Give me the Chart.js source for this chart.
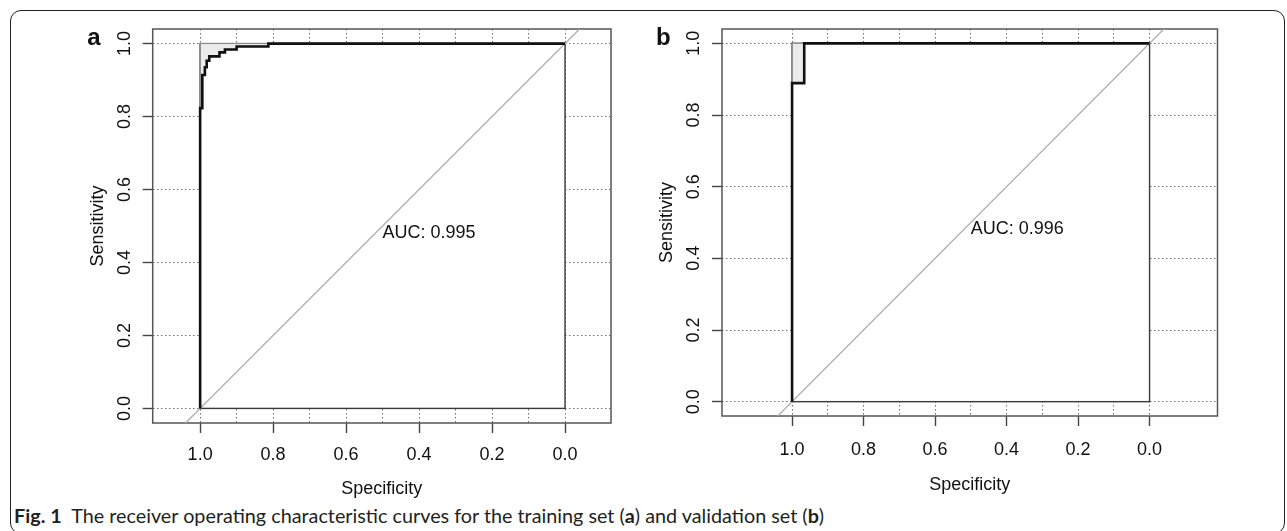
<!DOCTYPE html>
<html>
<head>
<meta charset="utf-8">
<script src="https://cdn.jsdelivr.net/npm/chart.js@4.4.0/dist/chart.umd.min.js"></script>
<style>
  html, body { margin: 0; padding: 0; background: #fff; }
  body { width: 1287px; height: 531px; position: relative; overflow: hidden; }
  #frame { position: absolute; left: 10px; top: 10px; width: 1275px; height: 524px;
           border: 1.5px solid #222; border-radius: 11px; box-sizing: border-box; }
  canvas { position: absolute; top: 0; }
  #caption { position: absolute; left: 14px; top: 503px; font-family: Lato, "Open Sans", sans-serif;
             font-size: 19.8px; line-height: 24px; color: #231f20; white-space: nowrap; }
</style>
</head>
<body>
<div id="frame"></div>
<canvas id="rocA" width="640" height="500" style="left:0px"></canvas>
<canvas id="rocB" width="647" height="500" style="left:640px"></canvas>
<div id="caption"><b>Fig. 1</b>&nbsp; The receiver operating characteristic curves for the training set (<b>a</b>) and validation set (<b>b</b>)</div>

<script>
// operating points of the ROC curves (specificity, sensitivity)
var specA = [1, 1, 0.994, 0.987, 0.982, 0.975, 0.947, 0.932, 0.900, 0.813, 0];
var sensA = [0, 0.823, 0.914, 0.935, 0.953, 0.965, 0.976, 0.984, 0.992, 1, 1];
var specB = [1, 1, 0.966, 0];
var sensB = [0, 0.889, 1, 1];
var aucA = "AUC: 0.995";
var aucB = "AUC: 0.996";

// axes
var xGrid = [1.0, 0.9, 0.8, 0.7, 0.6, 0.5, 0.4, 0.3, 0.2, 0.1, 0.0];
var xLabels = ["1.0", "0.8", "0.6", "0.4", "0.2", "0.0"];
var yTicks = [0.0, 0.2, 0.4, 0.6, 0.8, 1.0];
var diagSpec = [1.1, -0.1];

var FONT = '"Liberation Sans", Arial, Helvetica, sans-serif';

// turn operating points into the step path (right first, then up)
function stepPath(spec, sens) {
  var pts = [{x: spec[0], y: sens[0]}];
  for (var i = 1; i < spec.length; i++) {
    pts.push({x: spec[i], y: sens[i - 1]});
    pts.push({x: spec[i], y: sens[i]});
  }
  return pts;
}

// shaded area between the curve and the top-left corner
function cornerShape(spec, sens) {
  var pts = stepPath(spec, sens).slice(1, -1);
  pts.push({x: spec[0], y: 1});
  pts.push(pts[0]);
  return pts;
}

var frameBits = {
  id: 'frameBits',
  beforeDatasetsDraw: function (chart) {
    var ctx = chart.ctx, a = chart.chartArea;
    var sx = chart.scales.x, sy = chart.scales.y;
    var l = sx.getPixelForValue(1), r = sx.getPixelForValue(0);
    var t = sy.getPixelForValue(1), b = sy.getPixelForValue(0);
    ctx.save();
    ctx.fillStyle = '#fff';
    ctx.fillRect(l, t, r - l, b - t);
    ctx.strokeStyle = '#3a3a3a';
    ctx.lineWidth = 1.4;
    ctx.strokeRect(l, t, r - l, b - t);
    ctx.strokeStyle = '#555';
    ctx.lineWidth = 1.5;
    ctx.strokeRect(a.left, a.top, a.right - a.left, a.bottom - a.top);
    ctx.restore();
  },
  afterDraw: function (chart, args, opts) {
    var ctx = chart.ctx, a = chart.chartArea;
    var sx = chart.scales.x, sy = chart.scales.y;
    ctx.save();
    ctx.fillStyle = '#111';
    ctx.font = '18px ' + FONT;
    ctx.textAlign = 'center';
    ctx.textBaseline = 'middle';
    sy.ticks.forEach(function (t) {
      ctx.save();
      ctx.translate(a.left - 27.5, sy.getPixelForValue(t.value));
      ctx.rotate(-Math.PI / 2);
      ctx.fillText(t.value.toFixed(1), 0, 0);
      ctx.restore();
    });
    // AUC text, top-left anchored at (0.5, 0.5)
    ctx.textAlign = 'left';
    ctx.textBaseline = 'top';
    ctx.fillText(opts.auc, sx.getPixelForValue(0.5), sy.getPixelForValue(0.5) - 2);
    // panel letter
    ctx.font = 'bold 24px ' + FONT;
    ctx.textAlign = 'center';
    ctx.textBaseline = 'alphabetic';
    ctx.fillText(opts.letter, opts.letterX, 45);
    ctx.restore();
  }
};

function makeRoc(id, spec, sens, g) {
  var tickFont = {family: FONT, size: 18};
  new Chart(document.getElementById(id), {
    type: 'scatter',
    data: {
      datasets: [
        {
          data: stepPath(spec, sens),
          showLine: true, borderColor: '#111', borderWidth: 2.6,
          pointRadius: 0, fill: false
        },
        {
          data: diagSpec.map(function (s) { return {x: s, y: 1 - s}; }),
          showLine: true, borderColor: '#a8a8a8', borderWidth: 1.2,
          pointRadius: 0, fill: false
        },
        {
          data: cornerShape(spec, sens),
          showLine: true, borderColor: '#8c8c8c', borderWidth: 1,
          backgroundColor: '#ebebeb', pointRadius: 0, fill: 'shape'
        }
      ]
    },
    options: {
      responsive: false,
      animation: false,
      layout: {padding: {left: 0, top: g.top, right: g.width - g.right, bottom: 0}},
      plugins: {
        legend: {display: false},
        tooltip: {enabled: false},
        filler: {drawTime: 'beforeDatasetDraw'},
        frameBits: {auc: g.auc, letter: g.letter, letterX: g.letterX}
      },
      scales: {
        x: {
          type: 'linear', reverse: true, min: g.xmin, max: g.xmax,
          afterBuildTicks: function (s) { s.ticks = xGrid.map(function (v) { return {value: v}; }); },
          afterFit: function (s) { s.height = g.height - g.bottom; },
          ticks: {
            autoSkip: false, maxRotation: 0, minRotation: 0, padding: g.tickPad,
            color: '#111', font: tickFont,
            callback: function (v) {
              var lab = v.toFixed(1);
              return xLabels.indexOf(lab) >= 0 ? lab : '';
            }
          },
          grid: {
            color: '#6f6f6f', lineWidth: 1, tickLength: 10, tickWidth: 1.4,
            tickColor: function (c) {
              return xLabels.indexOf(c.tick.value.toFixed(1)) >= 0 ? '#444' : 'rgba(0,0,0,0)';
            }
          },
          border: {display: false, dash: [1.5, 2.5]},
          title: {
            display: true, text: 'Specificity', color: '#111',
            font: {family: FONT, size: 18}, padding: {top: 0, bottom: g.height - g.xTitleY - 10.8}
          }
        },
        y: {
          type: 'linear', min: -0.04, max: 1.04,
          afterBuildTicks: function (s) { s.ticks = yTicks.map(function (v) { return {value: v}; }); },
          afterFit: function (s) { s.width = g.left; },
          ticks: {display: false},
          grid: {color: '#6f6f6f', lineWidth: 1, tickLength: 10, tickWidth: 1.4, tickColor: '#444'},
          border: {display: false, dash: [1.5, 2.5]},
          title: {
            display: true, text: 'Sensitivity', color: '#111',
            font: {family: FONT, size: 18}, padding: {top: g.yTitleX - 10.8, bottom: 0}
          }
        }
      }
    },
    plugins: [frameBits]
  });
}

makeRoc('rocA', specA, sensA, {
  width: 640, height: 500, left: 152.7, right: 611, top: 29, bottom: 423,
  xmin: -0.126, xmax: 1.13, xTitleY: 489, yTitleX: 98, tickPad: 11,
  auc: aucA, letter: 'a', letterX: 94
});
makeRoc('rocB', specB, sensB, {
  width: 647, height: 500, left: 82, right: 577.5, top: 29, bottom: 416,
  xmin: -0.19, xmax: 1.196, xTitleY: 485, yTitleX: 27.3, tickPad: 13,
  auc: aucB, letter: 'b', letterX: 23.3
});
</script>
</body>
</html>
